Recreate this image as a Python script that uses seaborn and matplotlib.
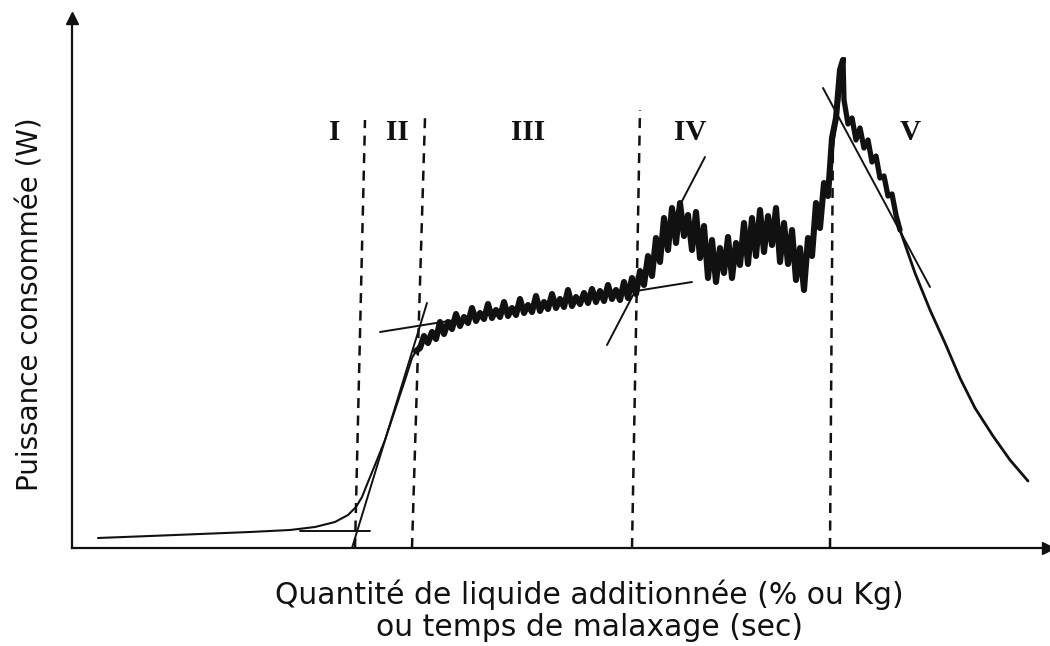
import matplotlib
matplotlib.use("Agg")
import matplotlib.pyplot as plt
import seaborn as sns

# ── Data (arbitrary units) ───────────────────────────────────────────────────
# phase I : slow rise, thin smooth trace
phase1_x = [26, 78, 128, 178, 218, 243, 263, 276, 284, 290, 296, 303, 313, 323, 333, 340, 344]
phase1_y = [10, 12, 14, 16, 18, 21, 26, 33, 41, 51, 66, 83, 108, 138, 168, 190, 197]

# phases II-IV : noisy recording
noisy_x = [344, 348, 352, 356, 360, 364, 368, 372, 376, 380, 384, 388, 392, 396, 400, 404,
           408, 412, 416, 420, 424, 428, 432, 436, 440, 444, 448, 452, 456, 460, 464, 468,
           472, 476, 480, 484, 488, 492, 496, 500, 504, 508, 512, 516, 520, 524, 528, 532,
           536, 540, 544, 548, 552, 556, 560, 564, 568, 572, 576, 580, 584, 588, 592, 596,
           600, 604, 608, 612, 616, 620, 624, 628, 632, 636, 640, 644, 648, 652, 656, 660,
           664, 668, 672, 676, 680, 684, 688, 692, 696, 700, 704, 708, 712, 716, 720, 724,
           728, 732, 736, 740, 744, 748, 752, 756, 760, 764, 768, 771]
noisy_y = [197, 200, 212, 205, 216, 209, 226, 214, 226, 219, 234, 222, 231, 225, 240, 227,
           235, 229, 244, 230, 238, 231, 246, 232, 240, 233, 249, 235, 243, 236, 252, 237,
           246, 239, 254, 240, 249, 241, 258, 242, 251, 244, 255, 245, 259, 246, 257, 247,
           263, 249, 258, 248, 266, 250, 270, 254, 277, 263, 292, 272, 310, 286, 330, 298,
           340, 305, 345, 312, 333, 298, 336, 290, 322, 270, 308, 266, 300, 275, 311, 270,
           305, 283, 325, 284, 330, 292, 338, 296, 332, 303, 340, 286, 325, 284, 318, 268,
           300, 258, 310, 292, 345, 320, 365, 352, 410, 430, 478, 488]

# phase V : decrease after the peak (noisy start, then smooth tail)
phase5_x = [771, 772, 776, 780, 784, 788, 792, 796, 800, 804, 808, 812, 816, 820, 824, 828]
phase5_y = [488, 448, 424, 430, 408, 420, 400, 408, 386, 392, 370, 372, 352, 354, 333, 318]
tail_x = [828, 843, 858, 873, 888, 903, 921, 938, 956]
tail_y = [318, 275, 238, 205, 170, 140, 112, 88, 67]

# tangent construction lines: (x0, x1), (y0, y1)
tangent_x = [(228, 298), (280, 355), (308, 620), (535, 633), (756, 773), (751, 858)]
tangent_y = [(17, 17), (0, 245), (216, 266), (203, 391), (363, 490), (460, 261)]

# phase boundaries (slightly slanted, as drawn)
boundary_x = [(283, 293), (340, 353), (560, 568), (758, 761)]
boundary_y = [(0, 428), (0, 430), (0, 438), (0, 418)]

region_names = ["I", "II", "III", "IV", "V"]
region_x = [263, 325, 456, 618, 838]
region_y = 415

XLABEL = "Quantité de liquide additionnée (% ou Kg)\nou temps de malaxage (sec)"
YLABEL = "Puissance consommée (W)"

# ── Plot ──────────────────────────────────────────────────────────────────────
sns.set_style("white")
plt.rcParams["font.family"] = ["DejaVu Sans"]
INK = "#111111"

fig = plt.figure(figsize=(10.5, 6.46), dpi=100)
ax = fig.add_axes([72 / 1050, 98 / 646, 976 / 1050, 530 / 646])

sns.lineplot(x=phase1_x, y=phase1_y, sort=False, estimator=None,
             color=INK, linewidth=1.5, ax=ax)
sns.lineplot(x=noisy_x, y=noisy_y, sort=False, estimator=None,
             color=INK, linewidth=4.4, ax=ax)
sns.lineplot(x=phase5_x, y=phase5_y, sort=False, estimator=None,
             color=INK, linewidth=3.8, ax=ax)
sns.lineplot(x=tail_x, y=tail_y, sort=False, estimator=None,
             color=INK, linewidth=2.0, ax=ax)

for tx, ty in zip(tangent_x, tangent_y):
    sns.lineplot(x=list(tx), y=list(ty), sort=False, estimator=None,
                 color=INK, linewidth=1.4, ax=ax)

for bx, by in zip(boundary_x, boundary_y):
    ax.plot(bx, by, color=INK, linewidth=1.8, dashes=(4, 3))

for name, rx in zip(region_names, region_x):
    ax.text(rx, region_y, name, ha="center", va="center", fontsize=21,
            fontweight="bold", family="Liberation Serif", color=INK)

ax.set_xlim(0, 976)
ax.set_ylim(0, 530)
ax.set_xticks([])
ax.set_yticks([])
sns.despine(ax=ax)
for side in ("left", "bottom"):
    ax.spines[side].set_linewidth(1.6)
    ax.spines[side].set_color(INK)

# axis arrows
ax.plot(1, 0, ">", color=INK, markersize=8, transform=ax.transAxes, clip_on=False)
ax.plot(0, 1, "^", color=INK, markersize=8, transform=ax.transAxes, clip_on=False)

ax.set_xlabel(XLABEL, fontsize=21.5, color=INK, linespacing=1.12, va="top")
ax.xaxis.set_label_coords(0.53, -0.06)
ax.set_ylabel(YLABEL, fontsize=20, color=INK, va="center")
ax.yaxis.set_label_coords(-0.043, 0.46)

fig.savefig("out.png", dpi=100)
plt.close(fig)
